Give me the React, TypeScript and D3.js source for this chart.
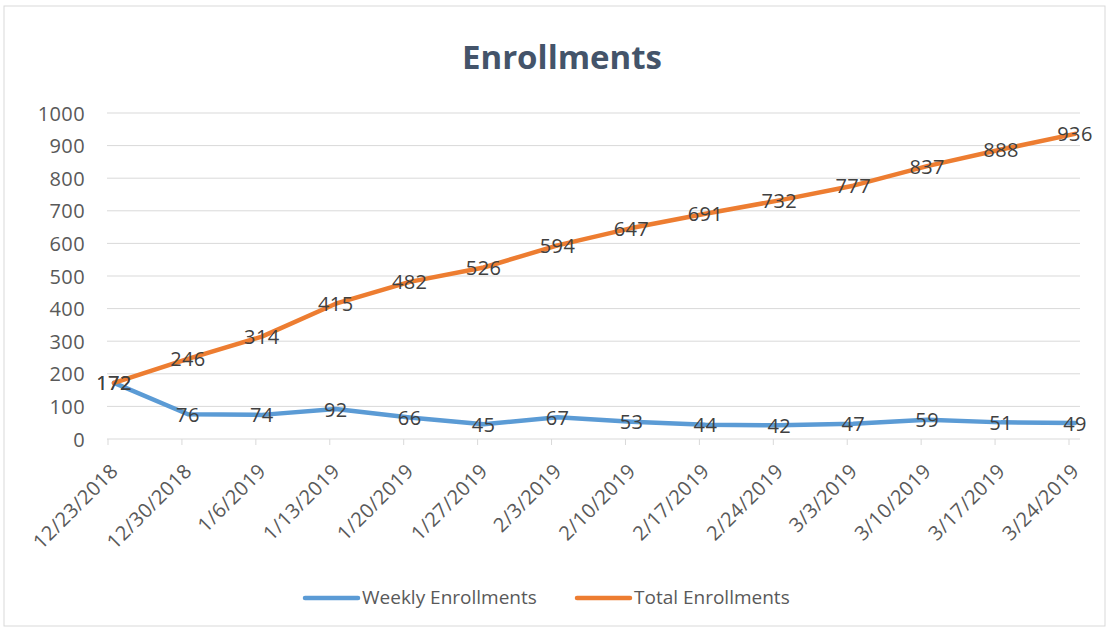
import React from "react";
import * as d3 from "d3";

const categories = [
  "12/23/2018", "12/30/2018", "1/6/2019", "1/13/2019", "1/20/2019", "1/27/2019", "2/3/2019",
  "2/10/2019", "2/17/2019", "2/24/2019", "3/3/2019", "3/10/2019", "3/17/2019", "3/24/2019",
];
const weekly = [172, 76, 74, 92, 66, 45, 67, 53, 44, 42, 47, 59, 51, 49];
const total = [172, 246, 314, 415, 482, 526, 594, 647, 691, 732, 777, 837, 888, 936];
const yTicks = [0, 100, 200, 300, 400, 500, 600, 700, 800, 900, 1000];
const seriesNames = ["Weekly Enrollments", "Total Enrollments"];
const colors = ["#5B9BD5", "#ED7D31"];

const W = 1109, H = 631;
const FONT = "'Open Sans', 'Noto Sans', sans-serif";
const FS = 20;
const LS = 0.4;

export default function App() {
  const y = d3.scaleLinear().domain([0, 1000]).range([439, 113]);
  const xTick = d3.scalePoint<string>().domain(categories).range([108, 1069]);
  const xPt = d3.scalePoint<string>().domain(categories).range([114, 1075]);
  const gridX0 = 107, gridX1 = 1080;
  const line = d3.line<number>().x((_, i) => xPt(categories[i])!).y((d) => y(d));
  const series = [weekly, total];

  return (
    <svg width={W} height={H} style={{ position: "absolute", left: 0, top: 0, background: "#fff" }}>
      <rect x={4} y={6} width={1101} height={620} fill="#fff" stroke="#D9D9D9" />
      <text x={562} y={56} textAnchor="middle" dominantBaseline="central" fontFamily={FONT}
        fontWeight="bold" fontSize={33} fill="#44546A">Enrollments</text>
      {yTicks.map((t) => (
        <g key={t}>
          {t !== 0 && <line x1={gridX0} x2={gridX1} y1={y(t)} y2={y(t)} stroke="#D9D9D9" strokeWidth={1} />}
          <text x={85} y={y(t)} textAnchor="end" dominantBaseline="central" fontFamily={FONT}
            fontSize={FS} letterSpacing={LS} fill="#595959">{t}</text>
        </g>
      ))}
      <line x1={gridX0} x2={gridX1} y1={y(0)} y2={y(0)} stroke="#D9D9D9" strokeWidth={1} />
      {categories.map((c) => (
        <g key={c}>
          <line x1={xTick(c)} x2={xTick(c)} y1={y(0)} y2={y(0) + 6} stroke="#D9D9D9" />
          <text transform={`translate(${xTick(c)! + 6},${y(0) + 28}) rotate(-45)`} textAnchor="end"
            dominantBaseline="central" fontFamily={FONT} fontSize={FS} letterSpacing={LS} fill="#595959">{c}</text>
        </g>
      ))}
      {series.map((s, k) => (
        <path key={k} d={line(s)!} fill="none" stroke={colors[k]} strokeWidth={4.5}
          strokeLinejoin="round" strokeLinecap="round" />
      ))}
      {series.map((s, k) =>
        s.map((v, i) => (
          <text key={`${k}-${i}`} x={xPt(categories[i])} y={y(v)} textAnchor="middle"
            dominantBaseline="central" fontFamily={FONT} fontSize={FS} letterSpacing={LS} fill="#404040">{v}</text>
        ))
      )}
      {seriesNames.map((n, k) => {
        const lx = k === 0 ? 305 : 577;
        return (
          <g key={n}>
            <line x1={lx} x2={lx + 53} y1={598} y2={598} stroke={colors[k]} strokeWidth={4.5} strokeLinecap="round" />
            <text x={lx + 57} y={597} dominantBaseline="central" fontFamily={FONT} fontSize={19}
              fill="#595959">{n}</text>
          </g>
        );
      })}
    </svg>
  );
}
